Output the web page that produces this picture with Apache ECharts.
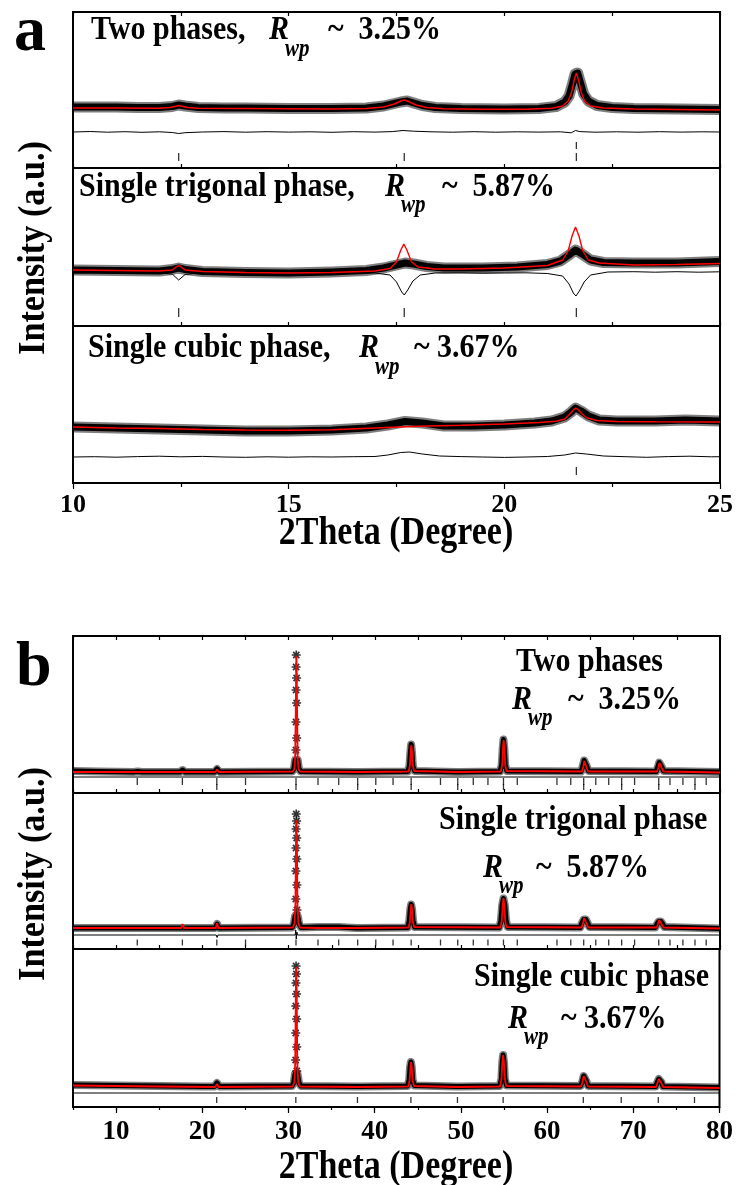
<!DOCTYPE html>
<html><head><meta charset="utf-8">
<script src="https://cdn.jsdelivr.net/npm/echarts@6/dist/echarts.min.js"></script>
<style>html,body{margin:0;padding:0;background:#fff}#c{width:736px;height:1185px}</style>
</head><body><div id="c"></div>
<script>
// ---------------- DATA (2Theta in degrees, intensity in arbitrary units) ----------------
// Panel a (10-25 deg)
const aTwoObs = [[10,61],[10.5,61],[11,61],[11.5,60.5],[12,60.5],[12.3,61.5],[12.45,63],[12.6,62],[12.9,60.5],[13.5,60],[14,60],[15,59.5],[16,59.5],[16.8,60],[17.2,62],[17.45,64.5],[17.6,66],[17.75,67],[17.9,65],[18.1,62.5],[18.4,60.5],[19,59.5],[20,59],[20.8,59.5],[21.2,61.5],[21.4,66],[21.5,72],[21.58,84],[21.64,94],[21.7,95],[21.76,86],[21.84,74],[21.95,67],[22.15,62.5],[22.5,60.5],[23,59.5],[24,59],[25,58.5]];
const aTwoCalc = [[10,60],[11,60],[12,59.8],[12.25,60.5],[12.38,61.8],[12.45,62.5],[12.52,61.8],[12.65,60.5],[12.9,59.8],[14,59.5],[15,59.2],[16,59],[16.8,59.5],[17.2,61],[17.45,64],[17.6,67],[17.68,68],[17.78,66.5],[17.95,63],[18.2,60.5],[18.6,59.3],[19.5,58.8],[20.5,58.8],[21.1,59.8],[21.35,62],[21.48,67],[21.56,76],[21.62,88],[21.67,95],[21.72,88],[21.78,76],[21.86,67],[22,62],[22.3,60],[23,59],[24,58.5],[25,58]];
const aTwoDiff = [[10,36],[10.4,36.5],[10.8,35.8],[11.2,36.3],[11.6,35.7],[12,36.2],[12.3,35.5],[12.45,34.5],[12.6,35.3],[13,36],[13.5,36.4],[14,35.8],[14.5,36.3],[15,35.9],[15.5,36.2],[16,35.7],[16.5,36.3],[17,35.9],[17.4,36.4],[17.65,37.5],[17.9,36.8],[18.3,36.2],[18.8,35.8],[19.3,36.3],[19.8,35.8],[20.3,36.2],[20.8,35.9],[21.3,36.2],[21.55,35.2],[21.65,37.5],[21.75,36.4],[22.1,35.8],[22.6,36.2],[23.1,35.8],[23.6,36.3],[24.1,35.9],[24.6,36.2],[25,36]];

const aTriObs = [[10,56],[11,55.5],[12,55],[12.3,56.5],[12.45,58],[12.6,56.5],[13,54.5],[14,53.5],[15,53],[16,54],[16.8,55.5],[17.2,58],[17.5,61],[17.7,63],[17.9,62],[18.2,59.5],[18.6,58],[19.5,58],[20.3,59],[21,61.5],[21.3,65],[21.5,71],[21.65,76],[21.8,72],[22,66],[22.3,63.5],[23,63],[24,63],[25,64.5]];
const aTriCalc = [[10,56],[11,55.5],[12,55],[12.3,56],[12.42,60],[12.48,60],[12.6,56],[13,54.5],[14,53.5],[15,53],[16,53.5],[17,55],[17.35,57.5],[17.5,64],[17.6,76],[17.67,82],[17.74,76],[17.85,64],[18,59],[18.4,57],[19,57],[20,58],[21,60.5],[21.35,66],[21.48,75],[21.57,90],[21.65,99],[21.73,90],[21.82,75],[21.95,66],[22.2,63],[23,61],[24,61.5],[25,62.5]];
const aTriDiff = [[10,53],[10.5,53.3],[11,52.8],[11.5,53.2],[12,53],[12.3,52],[12.45,46],[12.6,51.5],[12.9,53],[13.5,53.3],[14,52.8],[14.5,53.2],[15,52.8],[15.5,53.2],[16,53],[16.5,52.7],[17,53],[17.35,51],[17.5,44],[17.62,34],[17.68,31],[17.76,36],[17.88,45],[18.05,51],[18.4,53],[19,53.2],[19.5,52.8],[20,53],[20.5,53.2],[21,52.5],[21.35,50],[21.5,42],[21.6,33],[21.66,30],[21.74,35],[21.85,44],[22,51],[22.4,54],[23,54.3],[23.5,53.8],[24,54.3],[24.5,53.8],[25,54.2]];

const aCubObs = [[10,56],[11,55],[12,54],[13,53],[14,52],[15,52],[16,53],[16.8,55],[17.3,58],[17.7,61.5],[18.1,60],[18.6,57],[19.3,57],[20,58],[20.7,60],[21.1,62],[21.4,66],[21.55,71],[21.65,75],[21.78,72],[21.95,67],[22.2,63],[22.6,62],[23.5,62],[24.2,63],[25,62]];
const aCubCalc = [[10,56],[11,55],[12,54.5],[13,53.5],[14,53],[15,52.8],[16,53.2],[17,55],[18,56.8],[19,57.8],[20,59],[20.8,60.5],[21.2,61.8],[21.4,64],[21.52,69],[21.6,73],[21.66,75],[21.72,73],[21.8,69],[21.92,65],[22.15,62.5],[22.6,61.5],[23.5,61.2],[25,61]];
const aCubDiff = [[10,26],[10.5,26.3],[11,25.8],[11.5,26.4],[12,26.8],[12.5,26.2],[13,26.6],[13.5,26],[14,25.7],[14.5,26.2],[15,25.8],[15.5,26.2],[16,26],[16.5,26.3],[17,26.5],[17.3,28],[17.6,30.5],[17.8,31],[18.1,29],[18.5,27],[19,26.4],[19.5,26],[20,25.6],[20.5,26],[21,26.5],[21.4,28],[21.65,30],[21.9,29],[22.3,27],[22.8,26.3],[23.3,25.7],[23.8,26.4],[24.3,26.8],[24.8,26.2],[25,26.3]];

// Panel b (5-80 deg)
const bTwoObs = [[5,22],[8,21.5],[12,21],[12.5,21.5],[13,21],[17.4,21],[17.7,23],[18,21],[21.4,21],[21.7,24],[22,21],[30.4,21.5],[30.6,24],[30.75,33],[31.05,33],[31.2,24],[31.4,21.5],[37.8,21],[38,23],[38.2,21],[43.8,21.5],[44,27],[44.1,40],[44.2,48.5],[44.3,40],[44.4,27],[44.6,22],[49.4,21],[49.6,22],[49.8,21],[54.5,21.5],[54.7,28],[54.8,44],[54.9,53.5],[55,44],[55.1,28],[55.3,22],[63.9,21.5],[64.1,27],[64.25,32.5],[64.4,32.5],[64.55,27],[64.75,22],[72.6,21.5],[72.8,26],[72.95,30.5],[73.1,30.5],[73.25,26],[73.45,22],[80,21]];
const bTwoPeak = [[30.88,138],[30.86,126],[30.92,115],[30.86,103],[30.92,90],[30.85,71],[30.93,55],[30.84,43]];
const bTwoCalc = [[5,21],[12.3,21],[12.5,21.5],[12.7,21],[17.5,21],[17.7,22.5],[17.9,21],[21.5,21],[21.7,23.5],[21.9,21],[30.5,21.5],[30.65,24],[30.75,35],[30.82,80],[30.87,125],[30.9,137],[30.93,125],[30.98,80],[31.05,35],[31.15,24],[31.3,21.5],[37.8,21],[38,22.5],[38.2,21],[43.9,21.5],[44.05,27],[44.15,42],[44.22,48],[44.3,42],[44.4,27],[44.55,22],[49.5,21],[49.65,22],[49.8,21],[54.6,21.5],[54.75,28],[54.85,46],[54.92,53],[55,46],[55.1,28],[55.25,22],[64,21.5],[64.15,26],[64.28,32],[64.38,31],[64.5,26],[64.7,21.5],[72.7,21.5],[72.85,25],[72.98,30],[73.1,29.5],[73.25,25],[73.45,21.5],[80,20.5]];
const bTwoDiff = [[5,16],[30.75,16],[30.85,18],[30.9,14],[30.95,16],[80,16]];

const bTriObs = [[5,21],[12.3,21],[12.5,22],[12.7,21],[17.5,21],[17.7,23],[17.9,21],[21.5,21],[21.7,25],[21.9,21],[30.4,21.5],[30.6,25],[30.75,33],[31.05,33],[31.22,25],[31.45,21.5],[33.4,22],[35.8,22],[37.8,21],[38,23],[38.2,21],[43.8,21.5],[43.98,28],[44.1,40],[44.2,44.5],[44.3,40],[44.42,28],[44.6,22],[54.4,21.5],[54.6,28],[54.75,44],[54.9,50.5],[55.05,44],[55.2,28],[55.4,22],[63.8,21.5],[64,26],[64.2,29.5],[64.45,29.5],[64.65,26],[64.85,22],[72.5,21.5],[72.7,25],[72.9,27.5],[73.15,27.5],[73.35,25],[73.55,22],[80,20.5]];
const bTriPeak = [[30.88,135],[30.92,128],[30.86,120],[30.93,111],[30.85,101],[30.94,90],[30.84,78],[30.95,64],[30.83,50],[30.96,39]];
const bTriCalc = [[5,21],[12.35,21],[12.5,22.5],[12.65,21],[17.55,21],[17.7,25],[17.85,21],[21.55,21],[21.7,26],[21.85,21],[30.5,21.5],[30.68,26],[30.78,45],[30.85,110],[30.9,129],[30.95,110],[31.02,45],[31.12,26],[31.3,21.5],[33.3,21],[33.4,22.5],[33.5,21],[35.7,21],[35.8,22.5],[35.9,21],[37.9,21],[38,23],[38.1,21],[43.9,21.5],[44.05,27],[44.15,40],[44.22,45],[44.3,40],[44.4,27],[44.55,22],[54.55,21.5],[54.7,28],[54.82,45],[54.9,51],[54.98,45],[55.1,28],[55.25,22],[63.95,21.5],[64.1,25],[64.25,31],[64.4,29],[64.55,25],[64.75,21.5],[72.65,21.5],[72.8,24.5],[72.95,29],[73.1,28],[73.25,24.5],[73.45,21.5],[80,20.5]];
const bTriDiff = [[5,14],[12.4,14],[12.5,12.5],[12.6,14],[17.6,14],[17.7,12],[17.8,14],[21.6,14],[21.7,11.5],[21.8,14],[30.75,14],[30.82,19],[30.88,10],[30.95,17],[31.02,14],[80,14]];

const bCubObs = [[5,22],[10,21.5],[15,21],[20,20.5],[21.4,20.5],[21.7,24],[22,20.5],[30.4,21],[30.6,24],[30.75,33],[31.05,33],[31.22,24],[31.45,21],[37.8,20.5],[38,22.5],[38.2,20.5],[43.8,21],[44,27],[44.1,40],[44.2,45],[44.3,40],[44.4,27],[44.6,21.5],[49.5,20.5],[49.65,21.5],[49.8,20.5],[54.5,21],[54.7,28],[54.8,45],[54.9,52],[55,45],[55.1,28],[55.3,21.5],[63.9,21],[64.1,26],[64.25,31],[64.4,31],[64.55,26],[64.75,21],[72.6,20.5],[72.8,25],[72.95,28],[73.1,28],[73.25,25],[73.45,20.5],[80,19.5]];
const bCubPeak = [[30.88,141],[30.92,133],[30.86,124],[30.93,113],[30.85,101],[30.94,88],[30.84,74],[30.95,60],[30.83,47],[30.96,36]];
const bCubCalc = [[5,21.5],[10,21],[15,20.5],[21.5,20],[21.7,23],[21.9,20],[30.5,20.5],[30.68,25],[30.78,45],[30.85,115],[30.9,140],[30.95,115],[31.02,45],[31.12,25],[31.3,20.5],[37.9,20],[38,22],[38.1,20],[43.9,20.5],[44.05,27],[44.15,40],[44.22,45],[44.3,40],[44.4,27],[44.55,21],[49.55,20],[49.65,21],[49.75,20],[54.55,20.5],[54.7,28],[54.82,46],[54.9,52],[54.98,46],[55.1,28],[55.25,21],[63.95,20.5],[64.1,25],[64.25,31],[64.4,29],[64.55,25],[64.75,20.5],[72.65,20],[72.8,24],[72.95,28],[73.1,27],[73.25,24],[73.45,20],[80,19]];
const bCubDiff = [[5,14],[30.8,14],[30.88,16],[30.93,12],[31,14],[80,14]];

// Bragg reflection positions (2Theta)
const braggTrigA = [12.45, 17.68, 21.67];
const braggCubA = [21.67];
const braggTrigB = [12.45,17.68,21.67,25.0,30.85,33.4,35.8,38.0,40.1,42.1,44.2,47.6,49.6,51.4,53.1,54.9,56.5,61.1,62.7,64.2,65.6,67.1,68.6,70.1,72.9,74.2,75.7,77.1,78.4];
const braggCubB = [21.67,30.85,38.0,44.2,49.6,54.9,64.2,68.6,72.9,77.1];

// Axis ticks
const ticksA = [10, 15, 20, 25];
const ticksB = [10, 20, 30, 40, 50, 60, 70, 80];

// Texts
const titlesA = ['Two phases,', 'Single trigonal phase,', 'Single cubic phase,'];
const titlesB = ['Two phases', 'Single trigonal phase', 'Single cubic phase'];
const rwp = ['~  3.25%', '~  5.87%', '~ 3.67%'];
const xTitle = '2Theta (Degree)';
const yTitle = 'Intensity (a.u.)';

// ---------------- LAYOUT ----------------
const FONT = "'Liberation Serif','Times New Roman',serif";
const L = 73, W = 647;
const G = [
  {top: 12, height: 156}, {top: 168, height: 158}, {top: 326, height: 157},
  {top: 636, height: 157}, {top: 793, height: 156}, {top: 949, height: 158}
];

const chart = echarts.init(document.getElementById('c'), null, {renderer: 'canvas'});

const grid = G.map(g => ({left: L, width: W, top: g.top, height: g.height, show: true,
  borderColor: '#000', borderWidth: 2, backgroundColor: 'transparent', containLabel: false}));

const lblStyle = {color: '#000', fontFamily: FONT, fontWeight: 'bold', fontSize: 26};
const xAxis = [];
for (let i = 0; i < 6; i++) {
  const isA = i < 3;
  const bottom = (i === 2 || i === 5);
  const ax = {
    type: 'value', gridIndex: i, position: 'bottom',
    min: isA ? 10 : 5, max: isA ? 25 : 80,
    interval: isA ? (bottom ? 5 : 2.5) : 5,
    axisLine: {show: false}, splitLine: {show: false},
    axisTick: {show: true, inside: !bottom, length: bottom ? (isA ? 6 : 3) : 4, lineStyle: {color: '#000', width: 1.2}},
    axisLabel: {show: false}
  };
  if (bottom) {
    ax.axisLabel = Object.assign({show: true, margin: isA ? 9 : 12, showMinLabel: true, showMaxLabel: true,
      customValues: isA ? ticksA : ticksB}, lblStyle, {fontSize: isA ? 26 : 27});
    if (isA) ax.minorTick = {show: true, splitNumber: 2, length: 4, lineStyle: {color: '#000', width: 1.2}};
  }
  xAxis.push(ax);
}
[0, 3].forEach(i => xAxis.push({type: 'value', gridIndex: i, position: 'top', min: i === 0 ? 10 : 5, max: i === 0 ? 25 : 80,
  interval: i === 0 ? 2.5 : 5, axisLine: {show: false}, splitLine: {show: false}, axisLabel: {show: false},
  axisTick: {show: true, inside: true, length: 4, lineStyle: {color: '#000', width: 1.2}}}));
xAxis.push({type: 'value', gridIndex: 5, position: 'bottom', min: 5, max: 80, interval: 5,
  axisLine: {show: false}, splitLine: {show: false}, axisLabel: {show: false},
  axisTick: {show: true, inside: false, length: 6, customValues: ticksB, lineStyle: {color: '#000', width: 1.2}}});

const yAxis = G.map((g, i) => ({type: 'value', gridIndex: i, min: 0, max: g.height, show: false}));

const ASTER = 'path://M4.1,0h1.8v10h-1.8z M0,4.1h10v1.8h-10z M0.9,2.2L2.2,0.9L9.1,7.8L7.8,9.1z M7.8,0.9L9.1,2.2L2.2,9.1L0.9,7.8z';

const series = [];
function addPanel(i, obs, calc, diff, obsW, fringe, calcW, bragg, peak) {
  // observed points: soft fringe (scatter of the noisy asterisks) + dark core
  series.push({type: 'line', xAxisIndex: i, yAxisIndex: i, data: obs, showSymbol: false, silent: true, z: 2,
    lineStyle: {color: 'rgba(0,0,0,0.5)', width: obsW + fringe, join: 'round', cap: 'butt'}});
  series.push({type: 'line', xAxisIndex: i, yAxisIndex: i, data: obs, showSymbol: false, silent: true, z: 2,
    lineStyle: {color: '#000', width: obsW, join: 'round', cap: 'butt'}});
  if (peak) series.push({type: 'scatter', xAxisIndex: i, yAxisIndex: i, data: peak, symbol: ASTER, symbolSize: 9, silent: true, z: 3,
    itemStyle: {color: '#000'}});
  series.push({type: 'line', xAxisIndex: i, yAxisIndex: i, data: diff, showSymbol: false, silent: true, z: 3,
    lineStyle: {color: '#000', width: 1}});
  series.push({type: 'line', xAxisIndex: i, yAxisIndex: i, data: calc, showSymbol: false, silent: true, z: 4,
    lineStyle: {color: '#ff0000', width: calcW}});
  bragg.forEach(b => series.push({type: 'scatter', xAxisIndex: i, yAxisIndex: i, symbol: 'rect',
    symbolSize: [1.3, b.h], silent: true, z: 3, itemStyle: {color: '#000'},
    data: b.pos.map(p => [p, b.level])}));
}
addPanel(0, aTwoObs, aTwoCalc, aTwoDiff, 7, 4, 1.4, [{pos: braggTrigA, level: 11, h: 8}, {pos: braggCubA, level: 22.5, h: 7}]);
addPanel(1, aTriObs, aTriCalc, aTriDiff, 7, 4, 1.4, [{pos: braggTrigA, level: 13.5, h: 9}]);
addPanel(2, aCubObs, aCubCalc, aCubDiff, 7, 4, 1.4, [{pos: braggCubA, level: 12, h: 8}]);
addPanel(3, bTwoObs, bTwoCalc, bTwoDiff, 5, 3, 1.8, [{pos: braggTrigB, level: 11.5, h: 7}, {pos: braggCubB, level: 6, h: 6}], bTwoPeak);
addPanel(4, bTriObs, bTriCalc, bTriDiff, 5, 3, 1.8, [{pos: braggTrigB, level: 6.5, h: 6}], bTriPeak);
addPanel(5, bCubObs, bCubCalc, bCubDiff, 5, 3, 1.8, [{pos: braggCubB, level: 7, h: 6}], bCubPeak);

const SY = 1.15; // the reference lettering is slightly tall/condensed
function T(x, y, text, size, opt) {
  opt = opt || {};
  return {type: 'text', x: x, y: y, rotation: opt.rot || 0, z: 100,
    scaleX: opt.sx || 1, scaleY: opt.sy || SY,
    style: {text: text, fill: '#000', fontFamily: FONT, fontWeight: 'bold', fontStyle: opt.it ? 'italic' : 'normal',
      fontSize: size, align: opt.align || 'left', verticalAlign: 'middle'}};
}
const graphic = [
  T(14, 33, 'a', 64, {sy: 1}), T(16, 668, 'b', 64, {sy: 1}),
  T(34, 248, yTitle, 36, {rot: Math.PI / 2, align: 'center', sx: 0.95, sy: 1.05}),
  T(34, 874, yTitle, 36, {rot: Math.PI / 2, align: 'center', sx: 0.95, sy: 1.05}),
  T(396, 534, xTitle, 34, {align: 'center'}),
  T(396, 1168, xTitle, 34, {align: 'center'}),
  // panel a titles
  T(91, 30, titlesA[0], 30), T(269, 30, 'R', 30, {it: 1}), T(285, 50, 'wp', 21, {it: 1}), T(328, 30, rwp[0], 30),
  T(79, 187, titlesA[1], 30), T(385, 187, 'R', 30, {it: 1}), T(401, 206, 'wp', 21, {it: 1}), T(442, 187, rwp[1], 30),
  T(88, 348, titlesA[2], 30), T(359, 348, 'R', 30, {it: 1}), T(375, 368, 'wp', 21, {it: 1}), T(414, 348, rwp[2], 30),
  // panel b titles
  T(516, 662, titlesB[0], 30), T(512, 700, 'R', 30, {it: 1}), T(528, 719, 'wp', 21, {it: 1}), T(568, 700, rwp[0], 30),
  T(439, 820, titlesB[1], 30), T(483, 868, 'R', 30, {it: 1}), T(499, 887, 'wp', 21, {it: 1}), T(536, 868, rwp[1], 30),
  T(474, 977, titlesB[2], 30), T(508, 1019, 'R', 30, {it: 1}), T(524, 1038, 'wp', 21, {it: 1}), T(561, 1019, rwp[2], 30)
];

chart.setOption({animation: false, backgroundColor: '#fff', grid: grid, xAxis: xAxis, yAxis: yAxis, series: series, graphic: graphic});
</script></body></html>
